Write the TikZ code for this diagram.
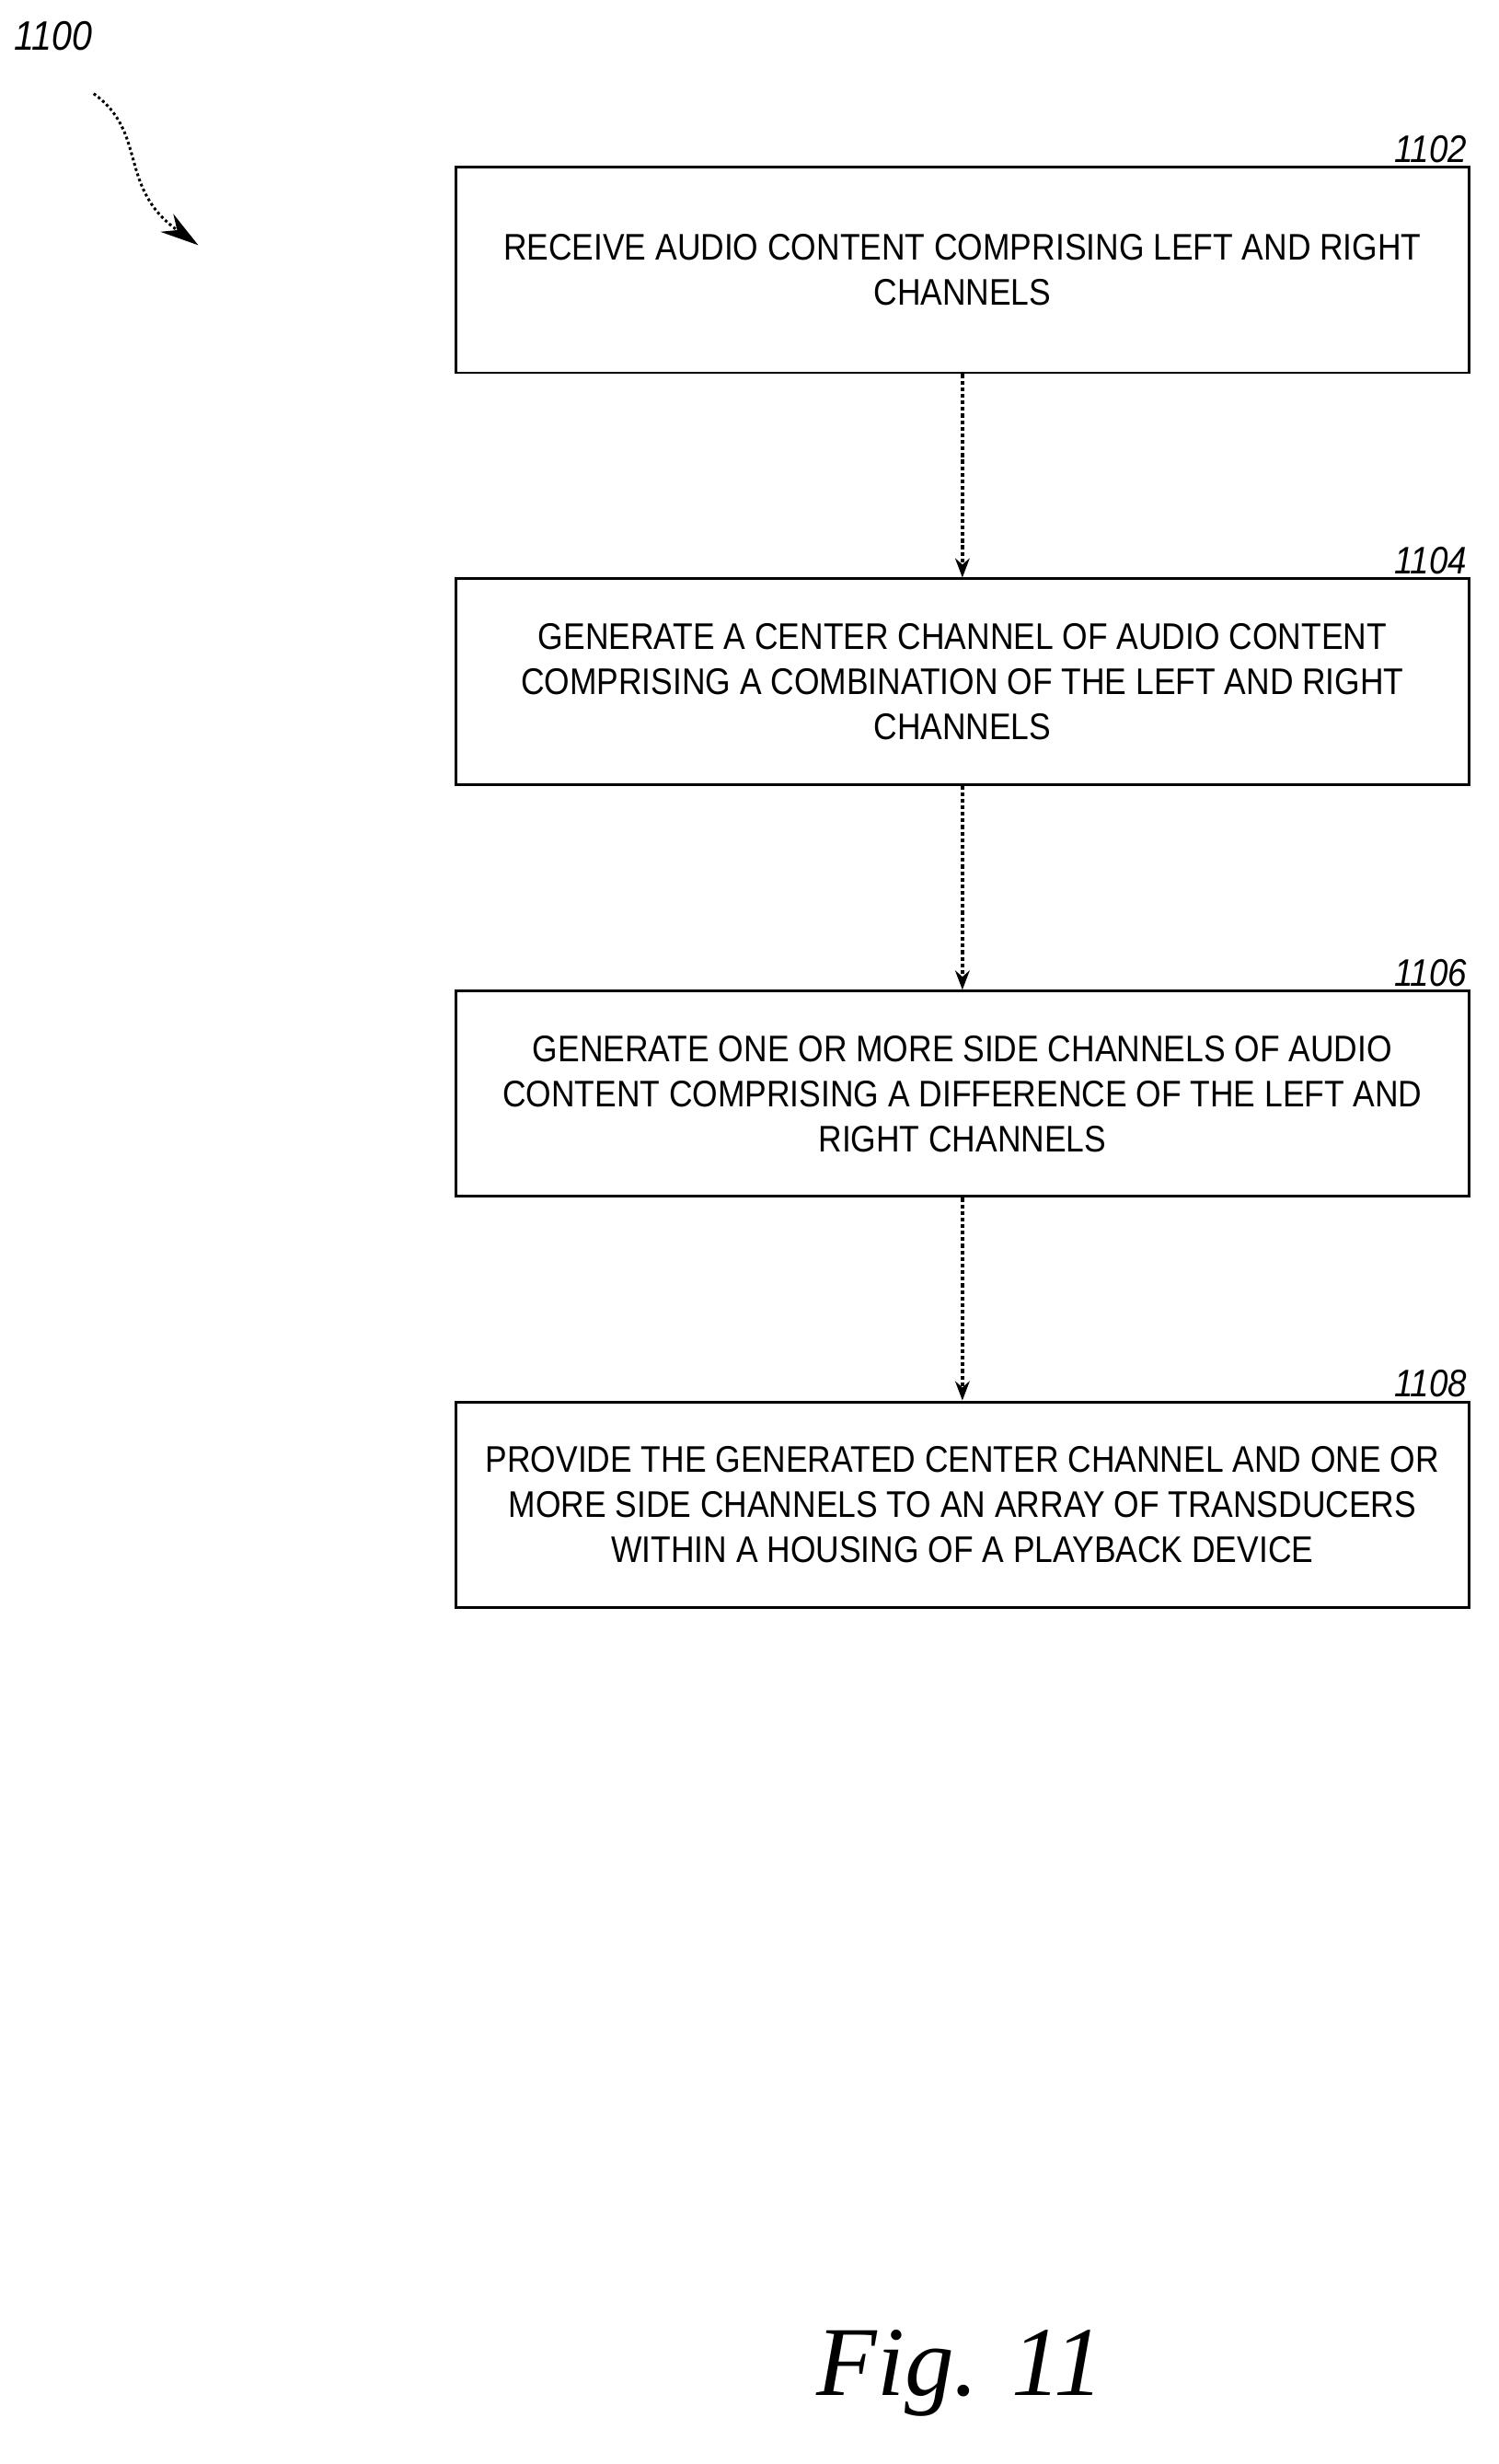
\documentclass[tikz,border=0pt]{standalone}
\usepackage{fontspec}
\setmainfont[FakeStretch=0.88]{Liberation Sans}
\newfontfamily\figfont{Liberation Serif}
\usetikzlibrary{positioning,arrows.meta}
\begin{document}
\begin{tikzpicture}[x=0.02cm, y=-0.02cm,
                    box/.style = {draw, line width = 1pt, minimum width = 12.98cm, minimum height = 2.63cm,
                                  align = center, font = \fontsize{13.5}{16.5}\selectfont},
                    ref/.style = {font = \itshape\fontsize{14}{16}\selectfont, anchor = south east, inner sep = 1pt},
                    flow/.style = {densely dotted, line width = 1.4pt, -{Stealth[length=7pt]}}]
  \useasboundingbox (0, 0) rectangle (960, 1578);
  \node [box] (S1) at (616.5, 173){RECEIVE AUDIO CONTENT COMPRISING LEFT AND RIGHT\\ CHANNELS};
  \node [box] (S2) at (616.5, 436.5){GENERATE A CENTER CHANNEL OF AUDIO CONTENT\\ COMPRISING A COMBINATION OF THE LEFT AND RIGHT\\ CHANNELS};
  \node [box] (S3) at (616.5, 700.5){GENERATE ONE OR MORE SIDE CHANNELS OF AUDIO\\ CONTENT COMPRISING A DIFFERENCE OF THE LEFT AND\\ RIGHT CHANNELS};
  \node [box] (S4) at (616.5, 963.5){PROVIDE THE GENERATED CENTER CHANNEL AND ONE OR\\ MORE SIDE CHANNELS TO AN ARRAY OF TRANSDUCERS\\ WITHIN A HOUSING OF A PLAYBACK DEVICE};

  \node [ref] at (S1.north east) {1102};
  \node [ref] at (S2.north east) {1104};
  \node [ref] at (S3.north east) {1106};
  \node [ref] at (S4.north east) {1108};

  \draw [flow] (S1) -- (S2);
  \draw [flow] (S2) -- (S3);
  \draw [flow] (S3) -- (S4);

  \node [font = \itshape\fontsize{15}{17}\selectfont] (F) at (34, 23){1100};
  \coordinate (A0) at (60, 60);
  \coordinate (A1) at (127, 157);
  \draw [densely dotted, line width = 1pt, -{Stealth[length=14pt, width=8pt]}]
    (A0) .. controls (95, 85) and (75, 120) .. (A1);

  \node [font = \figfont\itshape\fontsize{36}{40}\selectfont] (FIG) at (615, 1520){Fig. 11};
\end{tikzpicture}
\end{document}
